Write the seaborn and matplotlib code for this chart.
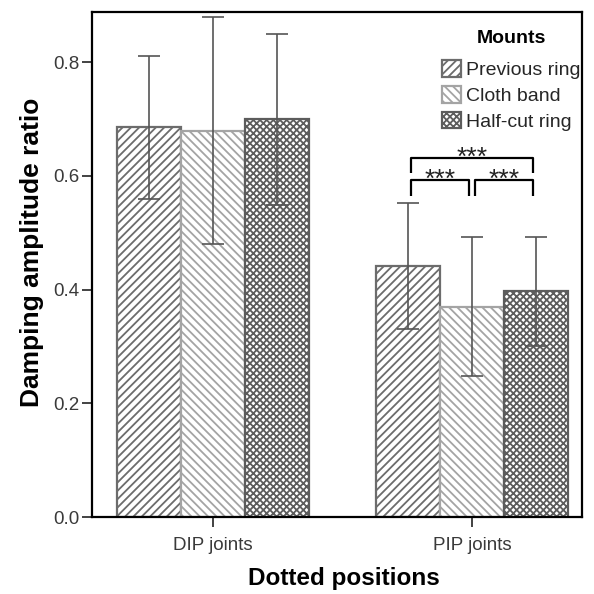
import matplotlib
matplotlib.use("Agg")
import matplotlib.pyplot as plt
from matplotlib.patches import Patch
import pandas as pd
import seaborn as sns

sns.set_theme(style="ticks")
plt.rcParams['font.family'] = ['Liberation Sans', 'DejaVu Sans']
plt.rcParams['hatch.linewidth'] = 1.3

positions = ["DIP joints", "PIP joints"]
mounts = ["Previous ring", "Cloth band", "Half-cut ring"]
# mean ratio per mount, DIP then PIP
previous_ring = [0.686, 0.441]
cloth_band = [0.679, 0.370]
half_cut_ring = [0.699, 0.397]
# error bar ends
previous_low = [0.560, 0.330]
previous_high = [0.811, 0.553]
cloth_low = [0.480, 0.248]
cloth_high = [0.879, 0.493]
half_low = [0.548, 0.301]
half_high = [0.849, 0.493]
# significance pairs on PIP joints (mount indices)
sig_pairs = [(0, 1, "***"), (1, 2, "***"), (0, 2, "***")]

df = pd.DataFrame({
    "position": positions * 3,
    "mount": [m for m in mounts for _ in positions],
    "ratio": previous_ring + cloth_band + half_cut_ring,
})

hatches = ["////", "\\\\\\\\", "xxxxx"]
edges = ["#6c6c6c", "#a4a4a4", "#5c5c5c"]

fig = plt.figure(figsize=(5.94, 5.94), dpi=100)
ax = fig.add_axes([0.155, 0.1296, 0.825, 0.8502])

sns.barplot(data=df, x="position", y="ratio", hue="mount", order=positions,
            hue_order=mounts, palette=["white"] * 3, width=0.74,
            errorbar=None, legend=False, ax=ax)

lows = [previous_low, cloth_low, half_low]
highs = [previous_high, cloth_high, half_high]
centers = []
for cont, h, ec, lo, hi in zip(ax.containers, hatches, edges, lows, highs):
    xs = []
    for bar in cont:
        bar.set_hatch(h)
        bar.set_edgecolor(ec)
        bar.set_facecolor("white")
        bar.set_linewidth(1.6)
        xs.append(bar.get_x() + bar.get_width() / 2)
    centers.append(xs)
    means = [b.get_height() for b in cont]
    ax.errorbar(xs, means,
                yerr=[[m - l for m, l in zip(means, lo)], [u - m for m, u in zip(means, hi)]],
                fmt="none", ecolor="#555555", elinewidth=1.2, capsize=8, capthick=1.2,
                zorder=5)

# significance brackets on PIP joints
inset = 0.012
levels = {(0, 1): (0.593, 0.564), (1, 2): (0.593, 0.564), (0, 2): (0.631, 0.605)}
for i, j, label in sig_pairs:
    top, leg = levels[(i, j)]
    x1 = centers[i][1] + inset
    x2 = centers[j][1] - inset
    ax.plot([x1, x1, x2, x2], [leg, top, top, leg], color="black", lw=1.6,
            solid_capstyle="butt", clip_on=False)
    ax.text((x1 + x2) / 2, top - 0.012, label, ha="center", va="baseline",
            fontsize=19, color="#222222")

ax.set_ylim(0, 0.888)
ax.set_xlim(-0.467, 1.425)
ax.set_yticks([0.0, 0.2, 0.4, 0.6, 0.8])
ax.set_yticklabels(["0.0", "0.2", "0.4", "0.6", "0.8"])
ax.tick_params(axis="both", labelsize=13.5, labelcolor="#3a3a3a", length=7,
               width=1.2, color="#222222", pad=2)
ax.tick_params(axis="x", pad=7.5)
for s in ax.spines.values():
    s.set_visible(True)
    s.set_linewidth(1.6)
    s.set_color("black")

ax.set_xlabel("Dotted positions", fontsize=17.5, fontweight="bold", labelpad=9,
              color="black")
ax.set_ylabel("Damping amplitude ratio", fontsize=19, fontweight="bold", labelpad=7,
              color="black")
ax.xaxis.label.set_x(0.514)
ax.yaxis.label.set_y(0.525)

handles = [Patch(facecolor="white", edgecolor=ec, hatch=h, linewidth=1.6)
           for h, ec in zip(hatches, edges)]
leg = ax.legend(handles, mounts, title="Mounts", loc="upper right",
                bbox_to_anchor=(1.012, 0.979), frameon=False, fontsize=14,
                title_fontproperties={"weight": "bold", "size": 14},
                handlelength=0.95, handleheight=0.95, handletextpad=0.25,
                labelspacing=0.35, borderaxespad=0)
leg._legend_box.sep = 9
leg.get_title().set_color("black")

fig.savefig("out.png", dpi=100)
